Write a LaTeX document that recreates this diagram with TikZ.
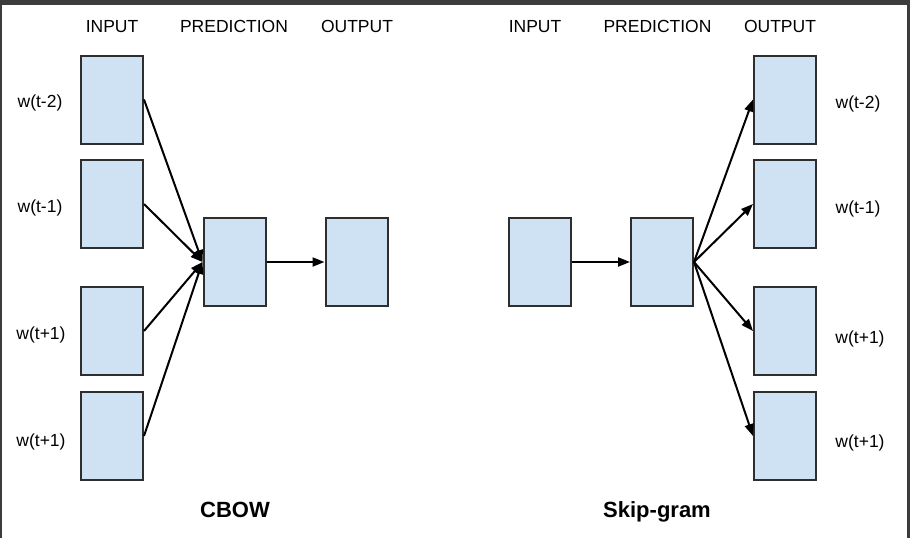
\documentclass[tikz,border=0pt]{standalone}
\usepackage{fontspec}
\setmainfont{Liberation Sans}
\usetikzlibrary{arrows.meta}
\definecolor{boxfill}{HTML}{CFE2F3}
\definecolor{boxline}{HTML}{2E2E2E}
\definecolor{frame}{HTML}{3C3C3C}
\begin{document}
\begin{tikzpicture}[x=1pt,y=-1pt,
  vbox/.style={draw=boxline,line width=2pt,fill=boxfill,minimum width=62pt,minimum height=88pt,inner sep=0pt},
  head/.style={font=\fontsize{17.5}{20}\selectfont,inner sep=0pt,anchor=base},
  wlab/.style={font=\fontsize{17.5}{20}\selectfont,inner sep=0pt,anchor=base},
  title/.style={font=\fontsize{22}{26}\selectfont\bfseries,inner sep=0pt,anchor=base},
  arr/.style={line width=2pt,-{Triangle[length=12pt,width=9pt]}}]
\useasboundingbox (0,0) rectangle (910,538);
\fill[frame] (0,0) rectangle (910,538);
\fill[white] (2,5) rectangle (907,538);
% CBOW
\node[head] (h1) at (112,32) {INPUT};
\node[head] (h2) at (234,32) {PREDICTION};
\node[head] (h3) at (357,32) {OUTPUT};
\node[vbox] (i1) at (112,99.5) {};
\node[vbox] (i2) at (112,204) {};
\node[vbox] (i3) at (112,331) {};
\node[vbox] (i4) at (112,436) {};
\node[vbox] (p1) at (234.5,262) {};
\node[vbox] (o1) at (356.5,262) {};
\node[wlab] (l1) at (40,107) {w(t-2)};
\node[wlab] (l2) at (40,212) {w(t-1)};
\node[wlab] (l3) at (41,339) {w(t+1)};
\node[wlab] (l4) at (41,446) {w(t+1)};
\draw[arr] (i1.east) -- (p1.west);
\draw[arr] (i2.east) -- (p1.west);
\draw[arr] (i3.east) -- (p1.west);
\draw[arr] (i4.east) -- (p1.west);
\draw[arr] (p1.east) -- (o1.west);
\node[title] (t1) at (235,517) {CBOW};
% Skip-gram
\node[head] (h4) at (535,32) {INPUT};
\node[head] (h5) at (657.5,32) {PREDICTION};
\node[head] (h6) at (780,32) {OUTPUT};
\node[vbox] (si) at (539.5,262) {};
\node[vbox] (sp) at (662,262) {};
\node[vbox] (s1) at (785,99.5) {};
\node[vbox] (s2) at (785,204) {};
\node[vbox] (s3) at (785,331) {};
\node[vbox] (s4) at (785,436) {};
\node[wlab] (r1) at (858,108) {w(t-2)};
\node[wlab] (r2) at (858,213) {w(t-1)};
\node[wlab] (r3) at (860,343) {w(t+1)};
\node[wlab] (r4) at (860,447) {w(t+1)};
\draw[arr] (si.east) -- (sp.west);
\draw[arr] (sp.east) -- (s1.west);
\draw[arr] (sp.east) -- (s2.west);
\draw[arr] (sp.east) -- (s3.west);
\draw[arr] (sp.east) -- (s4.west);
\node[title] (t2) at (657,517) {Skip-gram};
\end{tikzpicture}
\end{document}
